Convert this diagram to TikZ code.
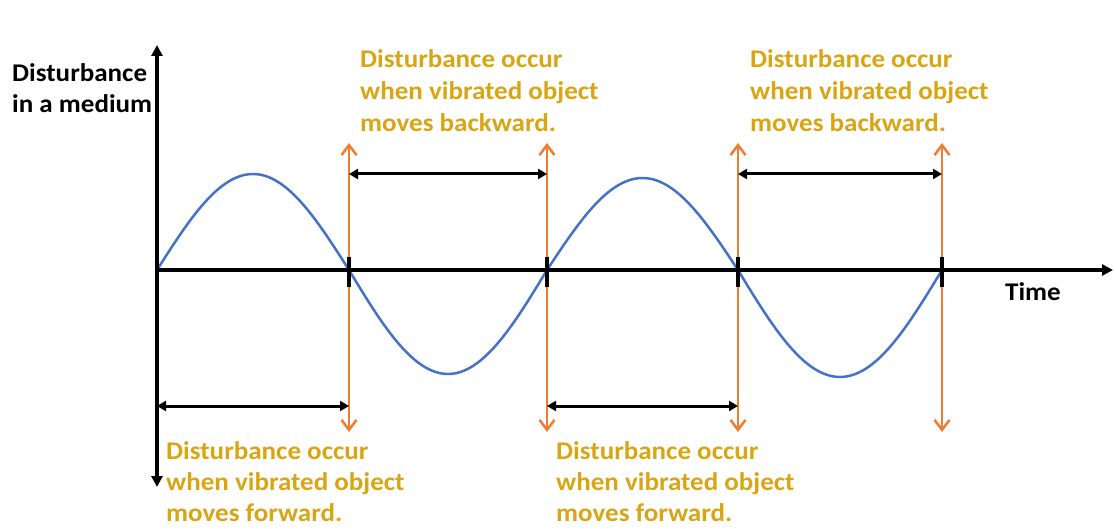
\documentclass[tikz,border=0pt]{standalone}
\usepackage{fontspec}
\setmainfont[FakeStretch=1.06]{Carlito}
\usetikzlibrary{arrows.meta}
\definecolor{wave}{RGB}{68,114,196}
\definecolor{vorange}{RGB}{237,125,49}
\definecolor{gold}{RGB}{218,165,20}
\begin{document}
\begin{tikzpicture}[x=1pt,y=-1pt,
  axis/.style={line width=3.5pt},
  tickmark/.style={line width=3.5pt},
  vline/.style={vorange, line width=2.5pt, {Straight Barb[length=10pt,width=15pt]}-{Straight Barb[length=10pt,width=15pt]}},
  spanarrow/.style={line width=3pt, {Triangle[length=9pt,width=10pt]}-{Triangle[length=9pt,width=10pt]}},
  lbl/.style={font=\bfseries\fontsize{25.5}{32}\selectfont, inner sep=0pt, anchor=base west},
  note/.style={lbl, text=gold},
  wavestyle/.style={wave, line width=2.5pt}
]
\useasboundingbox (0,0) rectangle (1115,529);
% coordinates
\coordinate (O) at (157,270);
\coordinate (ytop) at (157,45);
\coordinate (ybot) at (157,487);
\coordinate (xend) at (1113,270);
\foreach \n/\x in {a/349,b/547,c/738,d/942}{
  \coordinate (up\n) at (\x,143);
  \coordinate (dn\n) at (\x,432);
  \coordinate (tt\n) at (\x,257);
  \coordinate (tb\n) at (\x,287);
}
\coordinate (sl1) at (157,406);
\coordinate (sr1) at (349,406);
\coordinate (sl2) at (547,406);
\coordinate (sr2) at (738,406);
\coordinate (tl1) at (349,174);
\coordinate (tr1) at (547,174);
\coordinate (tl2) at (738,174);
\coordinate (tr2) at (942,174);
% orange verticals
\foreach \n in {a,b,c,d}{
  \draw[vline] (dn\n) -- (up\n);
}
% sine wave
\draw[wavestyle] plot[domain=0:1,samples=60] ({157+192*\x},{270-96*sin(180*\x)});
\draw[wavestyle] plot[domain=0:1,samples=60] ({349+198*\x},{270+104*sin(180*\x)});
\draw[wavestyle] plot[domain=0:1,samples=60] ({547+191*\x},{270-92*sin(180*\x)});
\draw[wavestyle] plot[domain=0:1,samples=60] ({738+204*\x},{270+107*sin(180*\x)});
% axes
\draw[axis, {Triangle[length=11pt,width=11pt]}-{Triangle[length=11pt,width=11pt]}] (ybot) -- (ytop);
\draw[axis, -{Triangle[length=11pt,width=11pt]}] (O) -- (xend);
\foreach \n in {a,b,c,d}{
  \draw[tickmark] (tt\n) -- (tb\n);
}
% spans
\draw[spanarrow] (sl1) -- (sr1);
\draw[spanarrow] (sl2) -- (sr2);
\draw[spanarrow] (tl1) -- (tr1);
\draw[spanarrow] (tl2) -- (tr2);
% labels
\node[lbl] (ylab1) at (12,82) {Disturbance};
\node[lbl] (ylab2) at (12,113) {in a medium};
\node[lbl] (tlab) at (1005,300) {Time};
\foreach \nm/\x in {ta/360,tb/750}{
  \node[note] (\nm1) at (\x,68) {Disturbance occur};
  \node[note] (\nm2) at (\x,100) {when vibrated object};
  \node[note] (\nm3) at (\x,132) {moves backward.};
}
\foreach \nm/\x in {ba/166,bb/556}{
  \node[note] (\nm1) at (\x,459) {Disturbance occur};
  \node[note] (\nm2) at (\x,490) {when vibrated object};
  \node[note] (\nm3) at (\x,521) {moves forward.};
}
\end{tikzpicture}
\end{document}
